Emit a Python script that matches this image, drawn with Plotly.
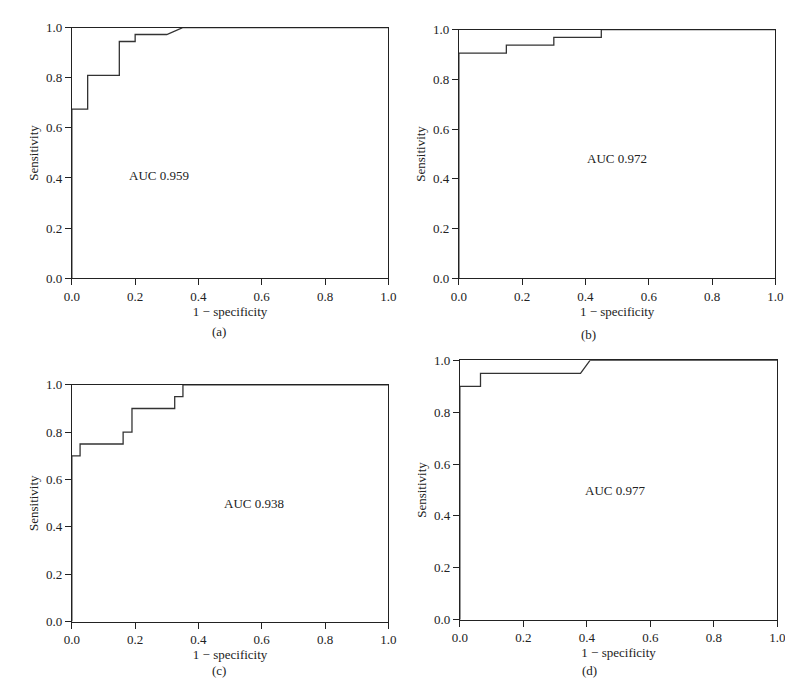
import plotly.graph_objects as go

W, H = 793, 694

# ROC step curves (1 - specificity, sensitivity)
fpr_a = [0.0, 0.0, 0.05, 0.05, 0.15, 0.15, 0.20, 0.20, 0.30, 0.35, 1.0]
tpr_a = [0.0, 0.675, 0.675, 0.81, 0.81, 0.945, 0.945, 0.973, 0.973, 1.0, 1.0]

fpr_b = [0.0, 0.0, 0.15, 0.15, 0.30, 0.30, 0.45, 0.45, 1.0]
tpr_b = [0.0, 0.906, 0.906, 0.938, 0.938, 0.969, 0.969, 1.0, 1.0]

fpr_c = [0.0, 0.0, 0.026, 0.026, 0.162, 0.162, 0.19, 0.19, 0.325, 0.325, 0.351, 0.351, 1.0]
tpr_c = [0.0, 0.70, 0.70, 0.75, 0.75, 0.80, 0.80, 0.90, 0.90, 0.95, 0.95, 1.0, 1.0]

fpr_d = [0.0, 0.0, 0.065, 0.065, 0.38, 0.41, 1.0]
tpr_d = [0.0, 0.90, 0.90, 0.95, 0.95, 1.0, 1.0]

auc_text = ["AUC 0.959", "AUC 0.972", "AUC 0.938", "AUC 0.977"]
auc_pos = [(0.275, 0.41), (0.50, 0.48), (0.575, 0.50), (0.49, 0.50)]
panel_labels = ["(a)", "(b)", "(c)", "(d)"]
tick_vals = [0.0, 0.2, 0.4, 0.6, 0.8, 1.0]
tick_text = ["0.0", "0.2", "0.4", "0.6", "0.8", "1.0"]

# pixel boxes of each plot area: left, right, top, bottom
boxes = [
    (57, 380, 13, 269),
    (452, 775, 15, 269),
    (57, 380, 378, 620),
    (453, 777, 353, 618),
]
label_drop = [55, 58, 60, 62]

FONT = "Liberation Serif"

def px_x(p):
    return p / W

def px_y(p):
    return 1 - p / H

fig = go.Figure()
curves = [(fpr_a, tpr_a), (fpr_b, tpr_b), (fpr_c, tpr_c), (fpr_d, tpr_d)]

annotations = []
for i, (fx, ty) in enumerate(curves):
    n = "" if i == 0 else str(i + 1)
    fig.add_trace(go.Scatter(
        x=fx, y=ty, mode="lines",
        line=dict(color="#333333", width=1.3),
        xaxis="x" + n, yaxis="y" + n,
        showlegend=False, hoverinfo="skip"))

    l, r, t, b = boxes[i]
    axis_common = dict(
        range=[0, 1], showgrid=False, zeroline=False,
        showline=True, linecolor="#222222", linewidth=1, mirror=True,
        ticks="outside", ticklen=6, tickcolor="#222222",
        tickvals=tick_vals, ticktext=tick_text,
        tickfont=dict(family=FONT, size=13, color="#222222"),
        fixedrange=True)
    fig.update_layout(**{
        "xaxis" + n: dict(axis_common, domain=[px_x(l), px_x(r)],
                          anchor="y" + n,
                          title=dict(text="1 − specificity", standoff=2,
                                     font=dict(family=FONT, size=13, color="#222222"))),
        "yaxis" + n: dict(axis_common, domain=[px_y(b), px_y(t)],
                          anchor="x" + n,
                          title=dict(text="Sensitivity", standoff=4,
                                     font=dict(family=FONT, size=13, color="#222222"))),
    })

    ax, ay = auc_pos[i]
    annotations.append(dict(
        x=ax, y=ay, xref="x" + n, yref="y" + n, text=auc_text[i],
        showarrow=False, font=dict(family=FONT, size=13, color="#222222")))
    annotations.append(dict(
        x=px_x((l + r) / 2 - 20), y=px_y(b + label_drop[i]), xref="paper", yref="paper",
        text=panel_labels[i], showarrow=False,
        font=dict(family=FONT, size=13, color="#222222")))

fig.update_layout(
    width=W, height=H,
    margin=dict(l=0, r=0, t=0, b=0),
    paper_bgcolor="white", plot_bgcolor="white",
    annotations=annotations,
)

fig.write_html("out.html")
